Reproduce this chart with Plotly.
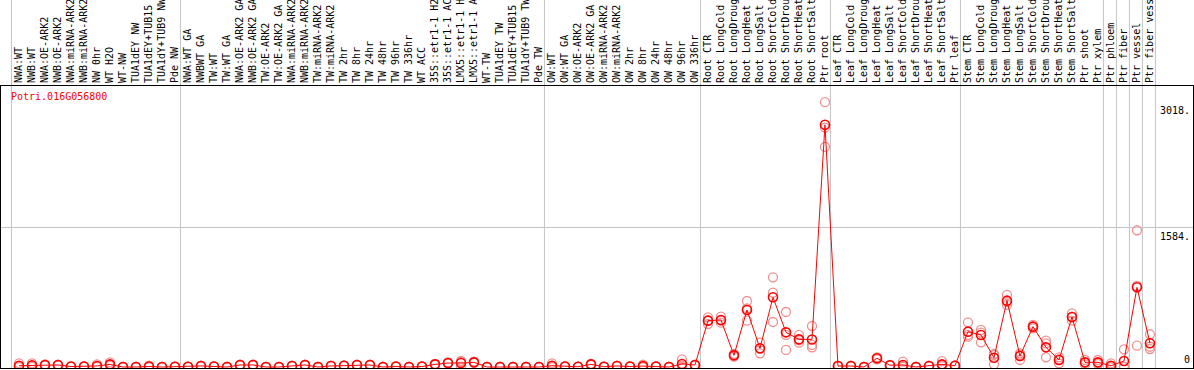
import plotly.graph_objects as go

gene_id = "Potri.016G056800"

group_sizes = [13, 28, 12, 10, 10, 11, 1, 1, 1, 1]

samples = [
    "NWA:WT", "NWB:WT", "NWA:OE-ARK2", "NWB:OE-ARK2", "NWA:miRNA-ARK2", "NWB:miRNA-ARK2",
    "NW 0hr", "WT H2O", "WT-NW", "TUA1dEY NW", "TUA1dEY+TUB15", "TUA1dY+TUB9 NW", "Pde NW",
    "NWA:WT GA", "NWBWT GA", "TW:WT", "TW:WT GA", "NWA:OE-ARK2 GA", "NWB:OE-ARK2 GA",
    "TW:OE-ARK2", "TW:OE-ARK2 GA", "NWA:miRNA-ARK2", "NWB:miRNA-ARK2", "TW:miRNA-ARK2",
    "TW:miRNA-ARK2", "TW 2hr", "TW 8hr", "TW 24hr", "TW 48hr", "TW 96hr", "TW 336hr",
    "WT ACC", "35S::etr1-1 H2", "35S::etr1-1 AC", "LMX5::etr1-1 H", "LMX5::etr1-1 A",
    "WT-TW", "TUA1dEY TW", "TUA1dEY+TUB15", "TUA1dY+TUB9 TW", "Pde TW",
    "OW:WT", "OW:WT GA", "OW:OE-ARK2", "OW:OE-ARK2 GA", "OW:miRNA-ARK2", "OW:miRNA-ARK2",
    "OW 2hr", "OW 8hr", "OW 24hr", "OW 48hr", "OW 96hr", "OW 336hr",
    "Root CTR", "Root LongCold", "Root LongDroug", "Root LongHeat", "Root LongSalt",
    "Root ShortCold", "Root ShortDrou", "Root ShortHeat", "Root ShortSalt", "Ptr root",
    "Leaf CTR", "Leaf LongCold", "Leaf LongDroug", "Leaf LongHeat", "Leaf LongSalt",
    "Leaf ShortCold", "Leaf ShortDrou", "Leaf ShortHeat", "Leaf ShortSalt", "Ptr leaf",
    "Stem CTR", "Stem LongCold", "Stem LongDroug", "Stem LongHeat", "Stem LongSalt",
    "Stem ShortCold", "Stem ShortDrou", "Stem ShortHeat", "Stem ShortSalt", "Ptr shoot",
    "Ptr xylem", "Ptr phloem", "Ptr fiber", "Ptr vessel", "Ptr fiber vess",
]

mean_values = [
    15, 20, 23, 23, 5, 5, 12, 30, 0, 0, 6, 0, 3,
    3, 12, 6, 0, 23, 23, 0, 0, 12, 23, 0, 12, 15, 23, 23, 0, 5, 0, 5, 30, 45, 45, 53, 0, 0, 0, 0, 0,
    15, 5, 3, 30, 3, 12, 5, 10, 5, 0, 35, 23,
    528, 536, 133, 650, 213, 794, 395, 315, 314, 2760,
    11, 11, 0, 99, 20, 23, 0, 11, 30, 15,
    403, 365, 106, 756, 125, 460, 224, 80, 570, 53, 53, 14, 68, 908, 270,
]

rep1 = [
    42, 42, 30, 28, 8, 7, 30, 53, 0, 0, 16, 0, 5,
    4, 16, 8, 0, 28, 28, 0, 0, 15, 28, 0, 15, 18, 28, 28, 0, 7, 0, 7, 36, 52, 60, 60, 0, 0, 0, 0, 0,
    42, 7, 4, 36, 4, 15, 7, 28, 7, 0, 88, 28,
    566, 573, 150, 752, 277, 1022, 627, 365, 467, 3018,
    15, 15, 0, 110, 24, 61, 0, 14, 68, 18,
    509, 422, 137, 821, 156, 480, 300, 110, 612, 80, 80, 42, 201, 1558, 373,
]

rep2 = [
    3, 15, 23, 22, 4, 5, 5, 25, 0, 0, 2, 0, 3,
    3, 12, 6, 0, 23, 23, 0, 0, 12, 23, 0, 12, 15, 23, 23, 0, 5, 0, 5, 30, 45, 70, 53, 0, 0, 0, 0, 0,
    3, 5, 3, 30, 3, 12, 5, 2, 5, 0, 15, 22,
    530, 530, 133, 669, 206, 847, 365, 303, 251, 2728,
    11, 11, 0, 99, 20, 5, 0, 11, 15, 15,
    365, 392, 150, 740, 139, 460, 270, 88, 570, 50, 45, 0, 4, 923, 231,
]

rep3 = [
    0, 3, 16, 19, 3, 3, 1, 12, 0, 0, 0, 0, 1,
    2, 8, 4, 0, 18, 18, 0, 0, 9, 18, 0, 9, 12, 18, 18, 0, 3, 0, 3, 24, 38, 5, 46, 0, 0, 0, 0, 0,
    0, 3, 2, 24, 2, 9, 3, 0, 3, 0, 2, 19,
    490, 505, 118, 528, 156, 513, 194, 277, 224, 2508,
    7, 7, 0, 88, 16, 3, 0, 8, 7, 12,
    346, 281, 30, 707, 80, 440, 110, 42, 528, 30, 34, 0, 0, 243, 205,
]

y_tick_values = [0, 1584, 3018]
y_tick_texts = ["0", "1584.", "3018."]

x_idx = list(range(len(samples)))

# group separator positions from group sizes
bounds = [-0.58]
acc = 0
for g in group_sizes:
    acc += g
    bounds.append(acc - 0.58)

fig = go.Figure()

rep_color = "#f09090"
for reps in (rep1, rep2, rep3):
    fig.add_trace(go.Scatter(
        x=x_idx, y=reps, mode="markers",
        marker=dict(symbol="circle-open", size=9, color=rep_color, line=dict(width=1.3, color=rep_color)),
        hoverinfo="skip", showlegend=False,
    ))

fig.add_trace(go.Scatter(
    x=x_idx, y=mean_values, mode="lines+markers",
    line=dict(color="#ff0000", width=1),
    marker=dict(symbol="circle-open", size=9, color="#ff0000", line=dict(width=1.6, color="#ff0000")),
    showlegend=False,
))

shapes = []
for b in bounds:
    shapes.append(dict(type="line", xref="x", yref="paper", x0=b, x1=b, y0=0, y1=1.31,
                       line=dict(color="#c4c4c4", width=1), layer="below"))

annotations = [
    dict(text=gene_id, x=0.0067, y=0.961, xref="paper", yref="paper", xanchor="left", yanchor="middle",
         showarrow=False, font=dict(family="DejaVu Sans Mono", size=10, color="#ff0000")),
]
for v, t in zip(y_tick_values, y_tick_texts):
    annotations.append(dict(text=t, x=1, y=v, xref="paper", yref="y", xanchor="right",
                            yanchor="bottom" if v == 0 else "top", xshift=-1,
                            yshift=0 if v == 0 else -1,
                            showarrow=False, font=dict(family="DejaVu Sans Mono", size=10, color="#000000")))

fig.update_layout(
    width=1194, height=370,
    margin=dict(l=1, r=1, t=86, b=2),
    paper_bgcolor="white", plot_bgcolor="white",
    shapes=shapes, annotations=annotations,
    xaxis=dict(
        range=[-1.385, 90.31], side="top", tickmode="array", tickvals=x_idx, ticktext=samples,
        tickangle=-90, tickfont=dict(family="DejaVu Sans Mono", size=10, color="#000000"),
        ticks="", showgrid=False, zeroline=False, showline=True, mirror=True, linecolor="#000000",
        linewidth=1, automargin=False, ticklabeloverflow="allow",
    ),
    yaxis=dict(
        range=[-11.4, 3202], tickmode="array", tickvals=[1584], showticklabels=False,
        showgrid=True, gridcolor="#c4c4c4", gridwidth=1, zeroline=False, showline=True, mirror=True,
        linecolor="#000000", linewidth=1, automargin=False,
    ),
)

fig.write_html(
    "out.html",
    config={"displayModeBar": False},
    post_script="document.body.style.margin='0';document.body.style.padding='0';document.body.style.overflow='hidden';",
)
